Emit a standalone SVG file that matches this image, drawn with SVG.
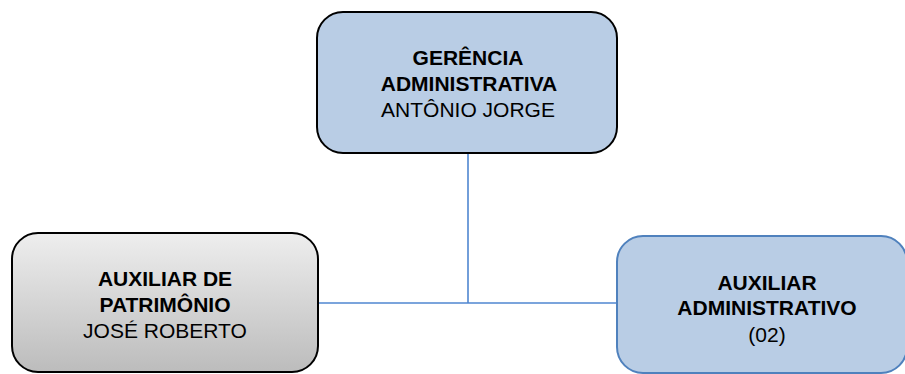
<svg xmlns="http://www.w3.org/2000/svg" width="905" height="374" viewBox="0 0 905 374">
  <style>
    text { font-family: "Liberation Sans", Arial, sans-serif; font-size: 21px; fill: #000; text-anchor: middle; }
    .b { font-weight: bold; }
    .conn { stroke: #4f86d0; stroke-width: 1.6; fill: none; }
  </style>
  <defs>
    <linearGradient id="gray" x1="0" y1="0" x2="0" y2="1">
      <stop offset="0" stop-color="#eeeeee"/>
      <stop offset="1" stop-color="#bcbcbc"/>
    </linearGradient>
  </defs>
  <rect width="905" height="374" fill="#ffffff"/>
  <g id="connectors">
    <line class="conn" x1="468" y1="153" x2="468" y2="303"/>
    <line class="conn" x1="318" y1="303" x2="617" y2="303"/>
  </g>
  <g id="gerencia">
    <rect x="317" y="12" width="300" height="141" rx="26" fill="#b9cde5" stroke="#000" stroke-width="2"/>
    <text class="b" x="468" y="65">GERÊNCIA</text>
    <text class="b" x="469" y="91">ADMINISTRATIVA</text>
    <text x="468" y="117">ANTÔNIO JORGE</text>
  </g>
  <g id="patrimonio">
    <rect x="12" y="233" width="306" height="139" rx="26" fill="url(#gray)" stroke="#000" stroke-width="2"/>
    <text class="b" x="165" y="286">AUXILIAR DE</text>
    <text class="b" x="165" y="312">PATRIMÔNIO</text>
    <text x="165" y="338">JOSÉ ROBERTO</text>
  </g>
  <g id="auxiliar">
    <rect x="617" y="236" width="290" height="137" rx="26" fill="#b9cde5" stroke="#4f81bd" stroke-width="2"/>
    <text class="b" x="767" y="290">AUXILIAR</text>
    <text class="b" x="767" y="315">ADMINISTRATIVO</text>
    <text x="767" y="342">(02)</text>
  </g>
</svg>
